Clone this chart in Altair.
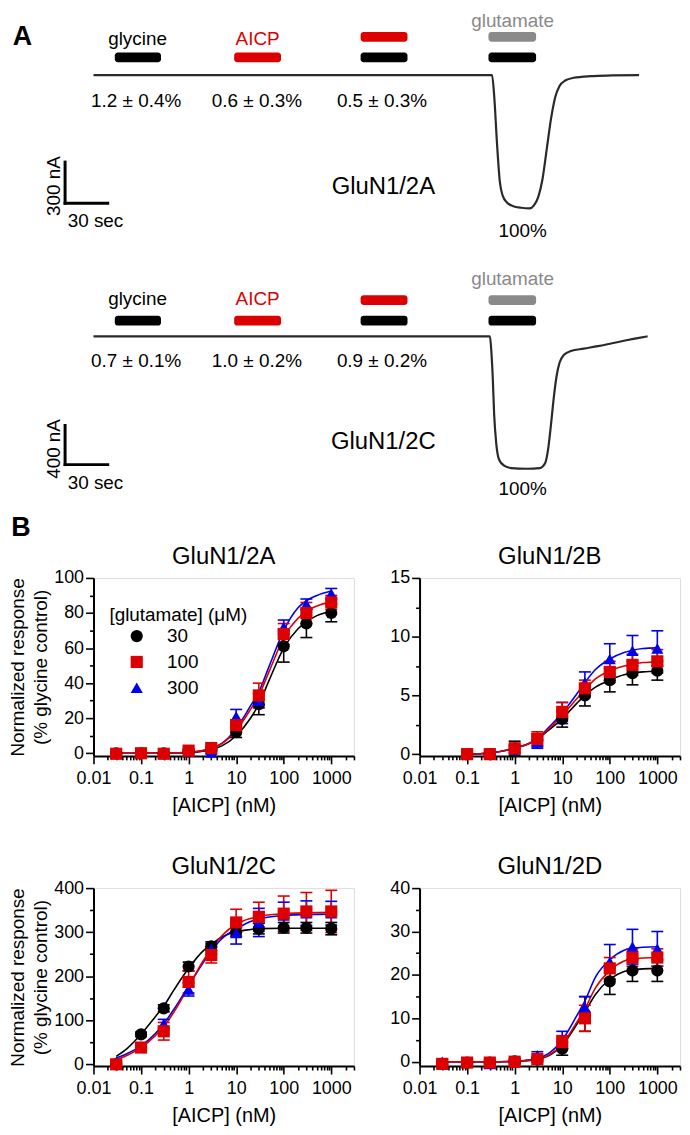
import altair as alt
import pandas as pd

FONT = "Liberation Sans"
BLACK = "#000000"
RED = "#dd0000"
BLUE = "#0000ee"
GRAY = "#8a8a8a"
TRACE = "#2a2a2a"

# ---------------- Panel A : traces (time in s, current in nA) ----------------
TOP_T = [0, 60, 120, 180, 240, 280.5, 282, 284, 286, 288, 291, 295, 301, 307, 310, 313, 316, 319, 322, 325, 328, 332, 338, 350, 365, 384]
TOP_I = [0, 0, 0, 0, 0, 0, -150, -500, -780, -880, -930, -955, -968, -972, -950, -890, -760, -540, -320, -160, -80, -40, -20, -8, -3, 0]
BOT_T = [0, 60, 120, 180, 240, 279, 280, 281, 282, 283.5, 285.5, 289, 294, 305, 314, 318, 320, 322, 324, 326, 328, 331, 336, 345, 355, 365, 375, 384, 390]
BOT_I = [0, 0, 0, 0, 0, 0, -150, -420, -800, -1100, -1260, -1320, -1345, -1352, -1345, -1290, -1150, -900, -620, -400, -270, -190, -150, -125, -100, -70, -40, -15, 0]

# application bars: start, end (s), row, colour
BAR_T0 = [15, 99, 188, 188, 278, 278]
BAR_T1 = [47.5, 132, 221, 221, 311.5, 311.5]
BAR_ROW = ["low", "low", "up", "low", "up", "low"]
BAR_COL = [BLACK, RED, RED, BLACK, GRAY, BLACK]
TOP_ROWS = {"up": (243, 314), "low": (93, 164)}
BOT_ROWS = {"up": (320, 420), "low": (110, 210)}

# labels (19 px): text, time, current, colour
TOP_LAB = ["glycine", "AICP", "glutamate", "1.2 ± 0.4%", "0.6 ± 0.3%", "0.5 ± 0.3%", "100%", "30 sec"]
TOP_LT = [31, 115.5, 295, 30, 115, 203, 302, 1.4]
TOP_LY = [264, 264, 396, -186, -186, -186, -1135, -1063]
BOT_LAB = ["glycine", "AICP", "glutamate", "0.7 ± 0.1%", "1.0 ± 0.2%", "0.9 ± 0.2%", "100%", "30 sec"]
BOT_LT = [31, 115.5, 295, 30, 115, 203, 302, 1.4]
BOT_LY = [380, 385, 590, -250, -250, -250, -1560, -1497]
LAB_COL = [BLACK, RED, GRAY, BLACK, BLACK, BLACK, BLACK, BLACK]
# receptor names (24 px)
TOP_NAME = ("GluN1/2A", 204, -814)
BOT_NAME = ("GluN1/2C", 204, -1080)

# scale bars (x, x2, y, y2)
TOP_SB = {"t": [-20, -20], "t2": [-20, 10], "i": [-635, -935], "i2": [-935, -935]}
BOT_SB = {"t": [-20, -20], "t2": [-20, 10], "i": [-910, -1310], "i2": [-1310, -1310]}
TOP_SBL = ("300 nA", -27.5, -810)
BOT_SBL = ("400 nA", -28, -1150)
LETTERS_TOP = ("A", -50, 278)
LETTERS_BOT = ("B", -51, -1955)

# ---------------- Panel B : concentration-response ----------------
CONC = [0.03, 0.1, 0.3, 1, 3, 10, 30, 100, 300, 1000]
CONC_B = [0.1, 0.3, 1, 3, 10, 30, 100, 300, 1000]
GLU = ["30", "100", "300"]
GLU_COL = [BLACK, RED, BLUE]
GLU_SHAPE = ["circle", "square", "triangle-up"]

MEAN = {
    "2A": {"30": [0, 0, 0, 1, 2, 12, 28, 61, 74, 80],
           "100": [-0.3, 0, -0.3, 1.5, 3, 16, 33, 68, 80, 86],
           "300": [0, 0, 0, 1, 0.5, 21, 30, 72, 85, 91]},
    "2B": {"30": [0, 0, 0.5, 1.2, 3.0, 5.0, 6.3, 6.9, 7.1],
           "100": [0, 0, 0.5, 1.3, 3.6, 5.6, 7.0, 7.6, 7.9],
           "300": [0.1, 0.1, 0.4, 1.0, 3.5, 6.1, 8.1, 8.8, 9.0]},
    "2C": {"30": [0, 68, 127, 222, 268, 300, 308, 310, 310, 308],
           "100": [0, 38, 75, 187, 248, 322, 335, 342, 347, 347],
           "300": [5, 40, 92, 170, 262, 298, 322, 338, 343, 343]},
    "2D": {"30": [-0.5, -0.2, -0.2, 0.1, 0.5, 3, 11, 18.5, 21, 21],
           "100": [-0.5, -0.2, -0.2, 0, 0.6, 4.5, 10, 21.5, 24, 24],
           "300": [0, -0.1, -0.5, 0.3, 1.5, 5, 12.5, 23, 26.5, 26]},
}
SEM = {
    "2A": {"30": [0.5, 0.5, 0.5, 0.8, 1, 3, 6, 9, 8, 5],
           "100": [0.5, 0.5, 0.5, 1, 1, 3, 7, 6, 6, 4],
           "300": [0.5, 0.5, 0.5, 1, 1, 4, 4, 4, 3, 3]},
    "2B": {"30": [0.1, 0.1, 0.6, 0.5, 0.7, 0.9, 1.0, 1.0, 0.8],
           "100": [0.1, 0.1, 0.3, 0.6, 0.8, 0.7, 0.9, 0.9, 1.0],
           "300": [0.2, 0.2, 0.3, 0.5, 0.9, 0.9, 1.3, 1.3, 1.5]},
    "2C": {"30": [3, 5, 8, 10, 10, 10, 12, 12, 12, 14],
           "100": [5, 8, 20, 25, 18, 30, 33, 40, 43, 48],
           "300": [3, 6, 10, 15, 12, 25, 32, 30, 28, 27]},
    "2D": {"30": [0.5, 0.3, 0.3, 0.3, 0.5, 1.5, 4, 3, 2.5, 2.5],
           "100": [0.5, 0.3, 0.3, 0.5, 0.5, 1.5, 3, 2.5, 2, 2],
           "300": [0.5, 0.3, 1, 0.5, 0.8, 2, 2.5, 4, 4, 4]},
}
CURVE_X = {
    "2A": [0.03, 0.1, 0.3, 1, 2, 3, 5, 10, 20, 30, 50, 100, 200, 300, 500, 1000],
    "2B": [0.1, 0.3, 1, 2, 3, 5, 10, 20, 30, 50, 100, 200, 300, 500, 1000],
    "2C": [0.03, 0.05, 0.1, 0.2, 0.3, 0.5, 1, 2, 3, 5, 10, 20, 30, 100, 300, 1000],
    "2D": [0.03, 0.1, 0.3, 1, 2, 3, 5, 10, 20, 30, 50, 100, 200, 300, 1000],
}
CURVE_Y = {
    "2A": {"30": [0, 0, 0.1, 0.4, 1.2, 2.2, 4.2, 10, 20, 28, 42, 60, 71, 75, 78.5, 81],
           "100": [0, 0, 0.1, 0.5, 1.5, 2.8, 5.5, 13, 25, 33, 47, 66, 77, 81, 84, 86.5],
           "300": [0, 0, 0.1, 0.5, 1.5, 2.8, 5.6, 14, 27, 35, 50, 70, 83, 87, 90, 92.5]},
    "2B": {"30": [0, 0.1, 0.5, 0.9, 1.3, 2.0, 3.0, 4.3, 5.0, 5.7, 6.3, 6.75, 6.9, 7.0, 7.05],
           "100": [0, 0.1, 0.5, 0.9, 1.3, 2.1, 3.3, 4.7, 5.5, 6.4, 7.1, 7.5, 7.65, 7.8, 7.85],
           "300": [0, 0.1, 0.5, 0.9, 1.3, 2.2, 3.5, 5.1, 6.1, 7.2, 8.1, 8.65, 8.85, 9.0, 9.05]},
    "2C": {"30": [18, 35, 68, 108, 132, 170, 218, 257, 272, 289, 301, 306, 308, 309, 309, 309],
           "100": [10, 20, 38, 65, 85, 120, 176, 234, 262, 292, 318, 331, 336, 342, 344, 345],
           "300": [14, 24, 42, 70, 92, 126, 178, 230, 257, 285, 307, 324, 330, 338, 340, 341]},
    "2D": {"30": [0, 0, 0, 0.1, 0.3, 0.6, 1.3, 3.8, 8.5, 11.5, 15.5, 19, 20.8, 21.2, 21.5],
           "100": [0, 0, 0, 0.1, 0.3, 0.6, 1.4, 4.0, 9.0, 12.2, 17, 21, 23.2, 23.7, 24],
           "300": [0, 0, 0, 0.1, 0.4, 0.8, 1.8, 5.0, 10.5, 14, 19.5, 23.5, 25.7, 26.2, 26.5]},
}
TITLES = {"2A": "GluN1/2A", "2B": "GluN1/2B", "2C": "GluN1/2C", "2D": "GluN1/2D"}
YDOM = {"2A": [-1.5, 100], "2B": [-0.15, 15], "2C": [-4, 400], "2D": [-1, 40]}
YMAJ = {"2A": [0, 20, 40, 60, 80, 100], "2B": [0, 5, 10, 15], "2C": [0, 100, 200, 300, 400], "2D": [0, 10, 20, 30, 40]}
YMIN = {"2A": [10, 30, 50, 70, 90], "2B": [2.5, 7.5, 12.5], "2C": [50, 150, 250, 350], "2D": [5, 15, 25, 35]}
XMAJ = [0.01, 0.1, 1, 10, 100, 1000]
XMIN = [0.02, 0.03, 0.04, 0.05, 0.06, 0.07, 0.08, 0.09,
        0.2, 0.3, 0.4, 0.5, 0.6, 0.7, 0.8, 0.9,
        2, 3, 4, 5, 6, 7, 8, 9,
        20, 30, 40, 50, 60, 70, 80, 90,
        200, 300, 400, 500, 600, 700, 800, 900,
        2000, 3000]

# ---------------- build panel A ----------------
A_W, A_H = 586, 533
xa = alt.Scale(domain=[0, 410], nice=False, zero=False)
ys_top = alt.Scale(domain=[-3400, 465], nice=False, zero=False)
ys_bot = alt.Scale(domain=[-2092, 3321], nice=False, zero=False)


def X(f="t"):
    return alt.X(f"{f}:Q", scale=xa, axis=None)


def Y(ys, f="i"):
    return alt.Y(f"{f}:Q", scale=ys, axis=None)


def one_text(spec, ys, size, bold=False, angle=0):
    d = pd.DataFrame({"lab": [spec[0]], "t": [spec[1]], "i": [spec[2]]})
    kw = dict(font=FONT, fontSize=size, color=BLACK, align="center", baseline="middle")
    if bold:
        kw["fontWeight"] = "bold"
    if angle:
        kw["angle"] = angle
    return alt.Chart(d).mark_text(**kw).encode(x=X(), y=Y(ys), text="lab:N")


def panel_layers(tt, ii, rows, labs, lt, ly, name, sb, sbl, letter, ys):
    layers = []
    tr = pd.DataFrame({"t": tt, "i": ii})
    layers.append(alt.Chart(tr).mark_line(color=TRACE, strokeWidth=2.2, interpolate="monotone")
                  .encode(x=X(), y=Y(ys)))
    bars = pd.DataFrame({"t": BAR_T0, "t2": BAR_T1,
                         "i": [rows[r][0] for r in BAR_ROW],
                         "i2": [rows[r][1] for r in BAR_ROW], "c": BAR_COL})
    layers.append(alt.Chart(bars).mark_bar(cornerRadius=3)
                  .encode(x=X(), x2="t2:Q", y=Y(ys), y2="i2:Q",
                          color=alt.Color("c:N", scale=None)))
    ld = pd.DataFrame({"lab": labs, "t": lt, "i": ly, "c": LAB_COL})
    layers.append(alt.Chart(ld).mark_text(font=FONT, fontSize=19, align="center", baseline="middle")
                  .encode(x=X(), y=Y(ys), text="lab:N", color=alt.Color("c:N", scale=None)))
    layers.append(one_text(name, ys, 24))
    sbd = pd.DataFrame(sb)
    layers.append(alt.Chart(sbd).mark_rule(color=BLACK, strokeWidth=3, strokeCap="square")
                  .encode(x=X(), x2="t2:Q", y=Y(ys), y2="i2:Q"))
    layers.append(one_text(sbl, ys, 19, angle=270))
    layers.append(one_text(letter, ys, 27, bold=True))
    return layers


panelA = alt.layer(
    *panel_layers(TOP_T, TOP_I, TOP_ROWS, TOP_LAB, TOP_LT, TOP_LY, TOP_NAME, TOP_SB, TOP_SBL, LETTERS_TOP, ys_top),
    *panel_layers(BOT_T, BOT_I, BOT_ROWS, BOT_LAB, BOT_LT, BOT_LY, BOT_NAME, BOT_SB, BOT_SBL, LETTERS_BOT, ys_bot),
).resolve_scale(y="independent").properties(
    width=A_W, height=A_H, view=alt.ViewBackground(stroke=None, strokeWidth=0))

# ---------------- build panel B ----------------
pt_rows, cap_rows, cv_rows = [], [], []
DRAW_ORDER = ["30", "300", "100"]
for key in MEAN:
    xs = CONC_B if key == "2B" else CONC
    for g in DRAW_ORDER:
        col = GLU_COL[GLU.index(g)]
        for c, m, e in zip(xs, MEAN[key][g], SEM[key][g]):
            pt_rows.append({"panel": key, "glu": g, "conc": c, "mean": m,
                            "lo": m - e, "hi": m + e, "hex": col})
            cap_rows.append({"panel": key, "glu": g, "conc": c, "v": m - e, "hex": col})
            cap_rows.append({"panel": key, "glu": g, "conc": c, "v": m + e, "hex": col})
        for c, v in zip(CURVE_X[key], CURVE_Y[key][g]):
            cv_rows.append({"panel": key, "glu": g, "conc": c, "v": v, "hex": col})
PTS = pd.DataFrame(pt_rows)
CAPS = pd.DataFrame(cap_rows)
CURV = pd.DataFrame(cv_rows)

B_W, B_H = 262, 179

legend = alt.Legend(title="[glutamate] (μM)", orient="none", legendX=16, legendY=598,
                    titleFontSize=19, titleFontWeight="normal", titleFont=FONT, titleColor=BLACK,
                    labelFontSize=19, labelFont=FONT, labelColor=BLACK, symbolSize=150,
                    symbolStrokeWidth=0, rowPadding=6, titlePadding=2, symbolOffset=18,
                    labelOffset=21, padding=0)

AX = dict(grid=False, domainColor=BLACK, tickColor=BLACK, labelColor=BLACK, titleColor=BLACK,
          labelFont=FONT, titleFont=FONT, tickWidth=1.6)


def b_chart(key, ytitle):
    xs = alt.Scale(type="log", domain=[0.01, 3000], nice=False)
    ys = alt.Scale(domain=YDOM[key], nice=False, zero=False)
    pts = PTS[PTS.panel == key]
    caps = CAPS[CAPS.panel == key]
    cur = CURV[CURV.panel == key]
    minor = alt.Chart(pts).mark_point(opacity=0).encode(
        x=alt.X("conc:Q", scale=xs, axis=alt.Axis(orient="bottom", values=XMIN, tickSize=4, labels=False,
                                                  domain=False, title=None, **AX)),
        y=alt.Y("mean:Q", scale=ys, axis=alt.Axis(orient="left", values=YMIN[key], tickSize=4, labels=False,
                                                  domain=False, title=None, **AX)),
    )
    lines = alt.Chart(cur).mark_line(interpolate="monotone", strokeWidth=1.6).encode(
        x=alt.X("conc:Q", scale=xs, axis=None), y=alt.Y("v:Q", scale=ys, axis=None),
        stroke=alt.Stroke("hex:N", scale=None), detail="glu:N")
    rules = alt.Chart(pts).mark_rule(strokeWidth=1.6).encode(
        x=alt.X("conc:Q", scale=xs, axis=None), y=alt.Y("lo:Q", scale=ys, axis=None), y2="hi:Q",
        stroke=alt.Stroke("hex:N", scale=None))
    capm = alt.Chart(caps).mark_tick(orient="horizontal", size=12, thickness=1.6, opacity=1).encode(
        x=alt.X("conc:Q", scale=xs, axis=None), y=alt.Y("v:Q", scale=ys, axis=None),
        fill=alt.Fill("hex:N", scale=None))
    yax = dict(orient="left", values=YMAJ[key], tickSize=8, labelPadding=2, labelFontSize=18,
               domainWidth=2, **AX)
    if ytitle:
        yax.update(title=["Normalized response", "(% glycine control)"], titleFontSize=19,
                   titleFontWeight="normal", titleLineHeight=23, titlePadding=3)
    else:
        yax.update(title=None)
    points = alt.Chart(pts).mark_point(filled=True, size=150, opacity=1, strokeWidth=0).encode(
        x=alt.X("conc:Q", scale=xs, axis=alt.Axis(orient="bottom", values=XMAJ, format="~g", tickSize=8,
                                                  labelPadding=6, labelFontSize=18, labelFlush=False,
                                                  labelOverlap=False, title="[AICP] (nM)", titleFontSize=20,
                                                  titleFontWeight="normal", titlePadding=8,
                                                  domainWidth=2, **AX)),
        y=alt.Y("mean:Q", scale=ys, axis=alt.Axis(**yax)),
        color=alt.Color("glu:N", scale=alt.Scale(domain=GLU, range=GLU_COL), legend=legend),
        shape=alt.Shape("glu:N", scale=alt.Scale(domain=GLU, range=GLU_SHAPE), legend=legend),
    )
    return alt.layer(minor, lines, rules, capm, points).resolve_axis(
        x="independent", y="independent").properties(
        width=B_W, height=B_H,
        title=alt.TitleParams(TITLES[key], fontSize=24, fontWeight="normal", font=FONT, color=BLACK,
                              offset=0, frame="group", anchor="middle"))


row1 = alt.hconcat(b_chart("2A", True), b_chart("2B", False), spacing=33)
row2 = alt.hconcat(b_chart("2C", True), b_chart("2D", False), spacing=33)
panelB = alt.vconcat(row1, row2, spacing=38)

chart = alt.vconcat(panelA, panelB, spacing=3).properties(padding=0).configure_view(
    stroke=None, strokeWidth=0).configure_legend(symbolOffset=18).configure(font=FONT)

chart.save("out.html", embed_options={"renderer": "svg", "actions": False})
